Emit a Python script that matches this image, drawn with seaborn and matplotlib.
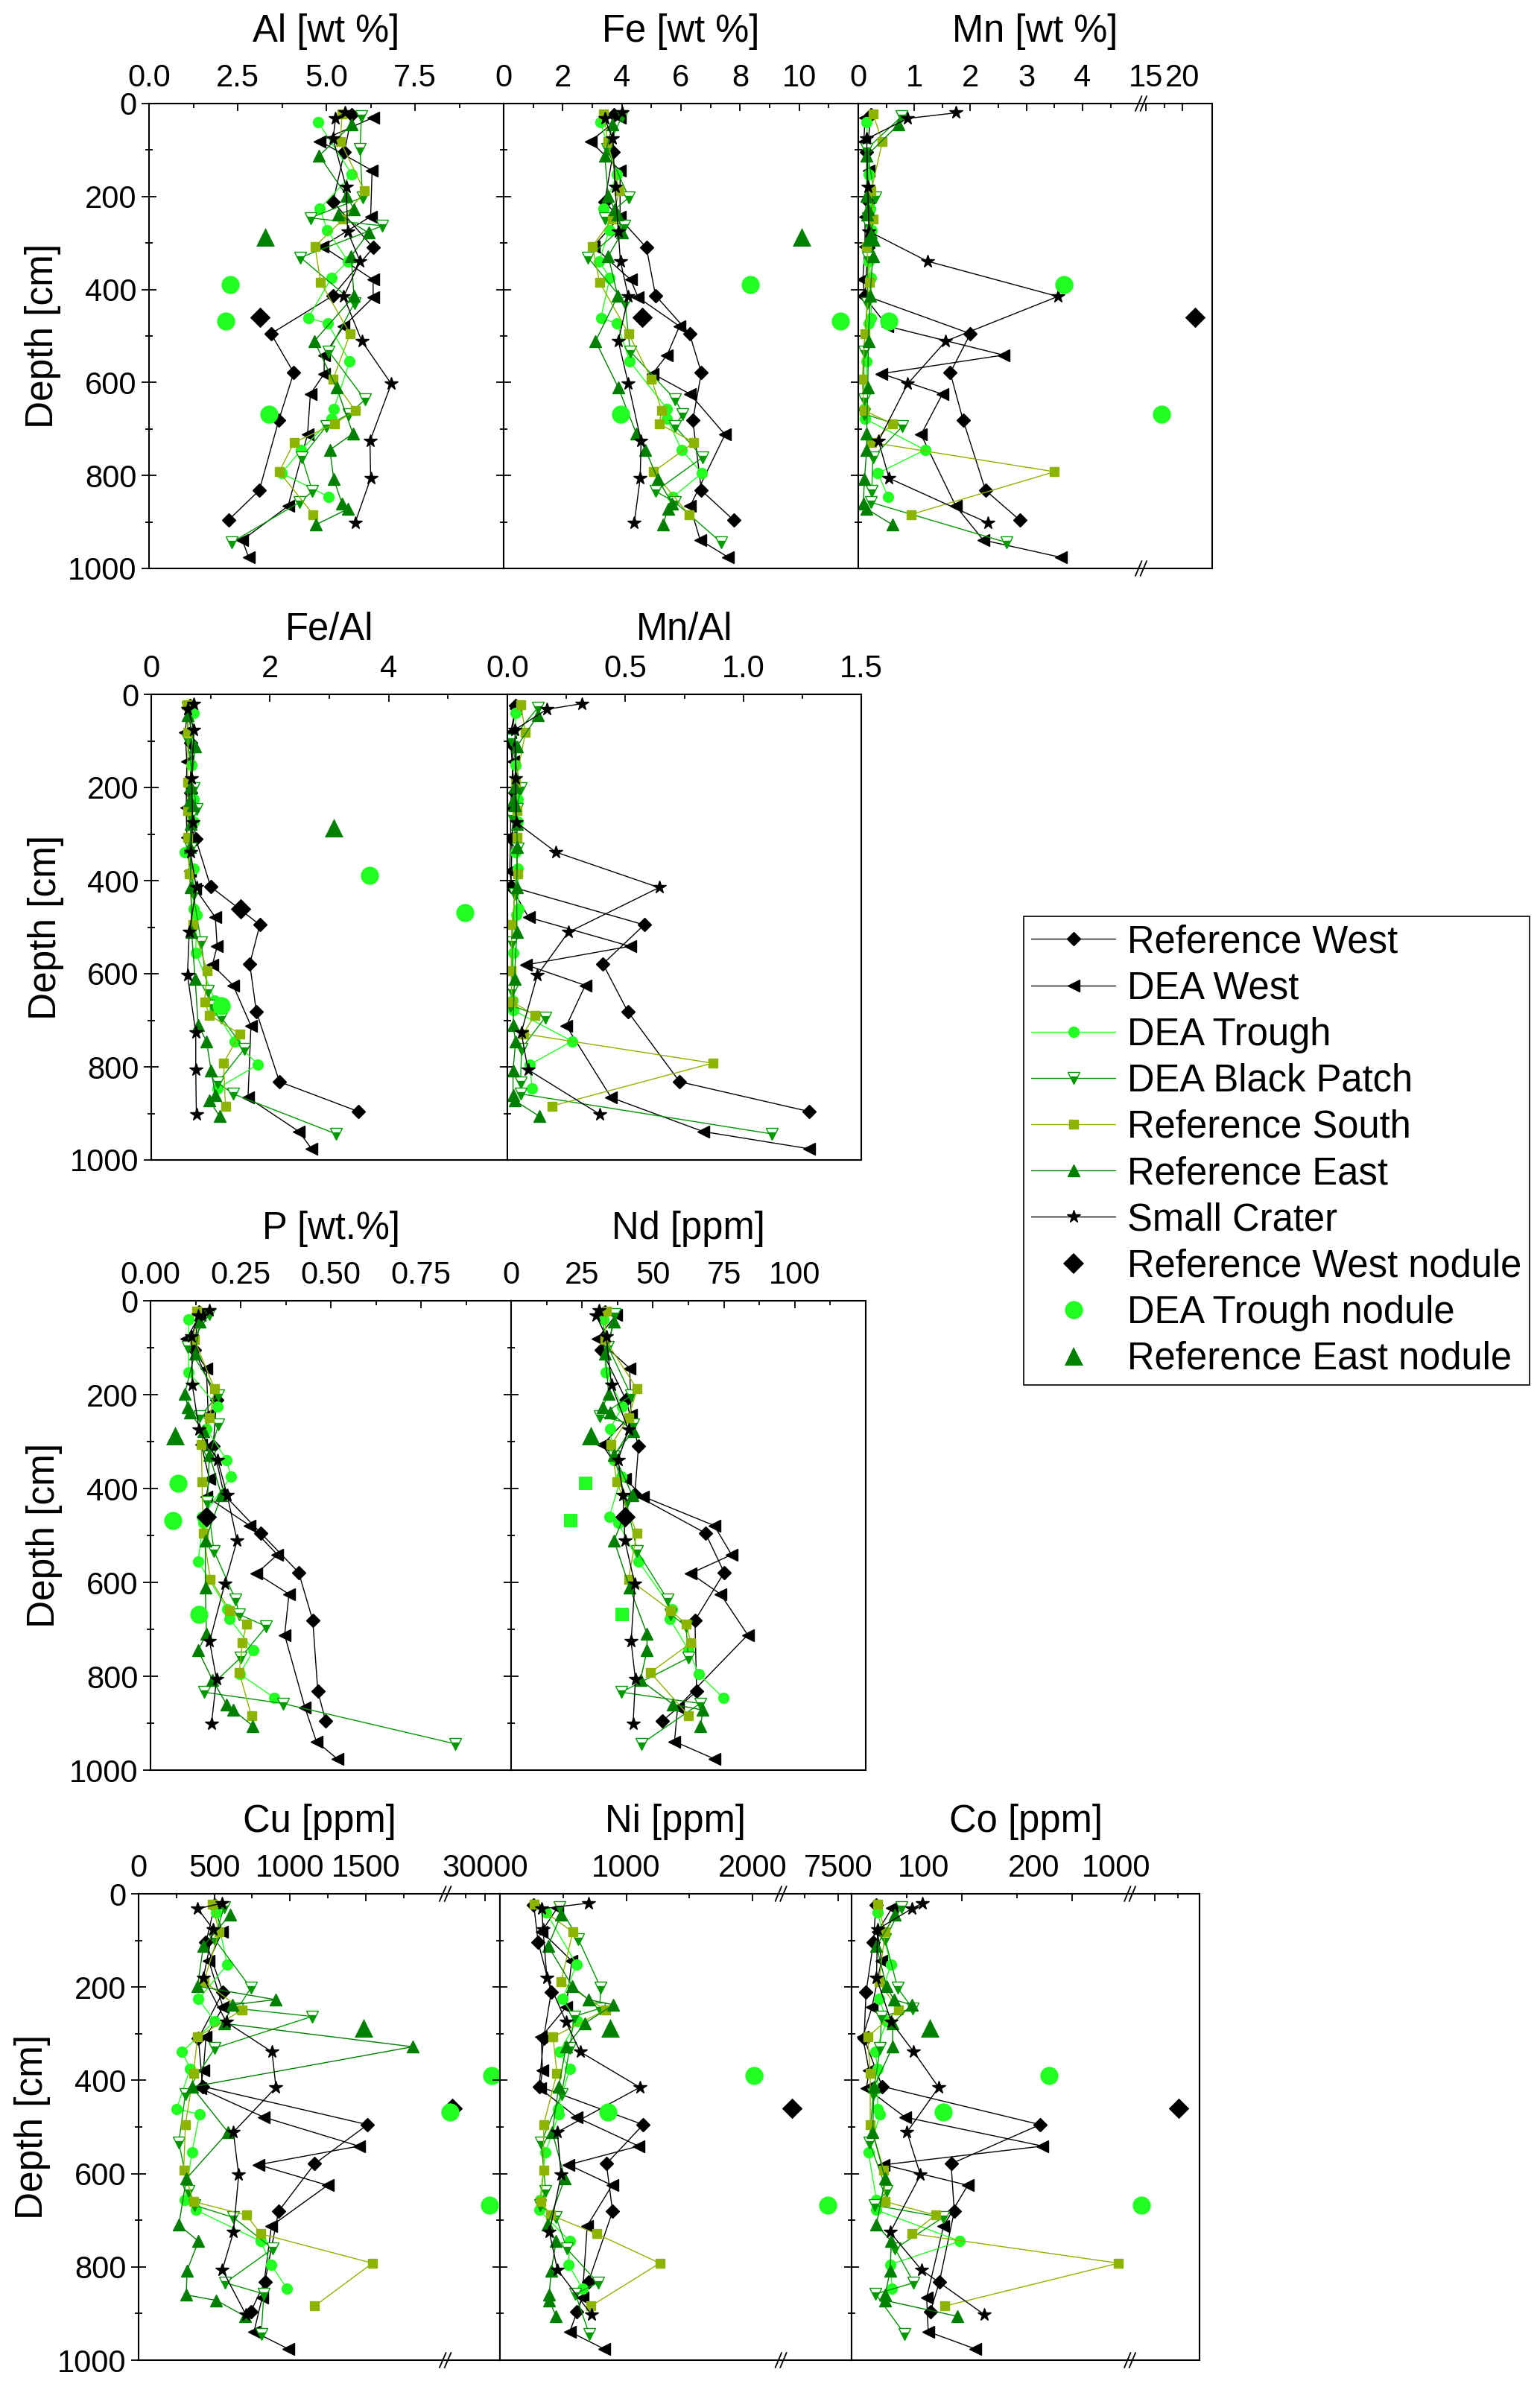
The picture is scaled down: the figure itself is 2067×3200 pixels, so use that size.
import numpy as np
import pandas as pd
import matplotlib
matplotlib.use("Agg")
import matplotlib.pyplot as plt
import seaborn as sns
from matplotlib.ticker import FixedLocator, FixedFormatter, NullFormatter
from matplotlib.lines import Line2D
from matplotlib.transforms import ScaledTranslation

# ---------------------------------------------------------------- depths [cm]
depth_rw = [24, 104, 211, 310, 413, 495, 579, 681, 832, 896]
depth_dw = [30, 81, 144, 243, 307, 379, 417, 479, 541, 581, 625, 712, 866, 939, 976]
depth_dt = [40, 152, 226, 273, 339, 375, 461, 473, 555, 657, 678, 745, 795, 846]
depth_bp = [28, 98, 202, 246, 263, 331, 429, 533, 637, 668, 694, 761, 834, 858, 944]
depth_rs = [22, 82, 188, 249, 307, 385, 495, 593, 660, 689, 729, 792, 884]
depth_re = [45, 112, 198, 227, 238, 278, 328, 414, 511, 611, 710, 745, 808, 860, 872, 906]
depth_sc = [20, 32, 76, 180, 275, 339, 415, 511, 603, 726, 806, 902]
depth_rw_nod = [460]
depth_dt_nod = [389, 468, 668]
depth_re_nod = [287]

# ---------------------------------------------------------------- Al [wt %]
al_rw = [5.72, 5.51, 5.19, 6.32, 5.19, 3.44, 4.08, 3.66, 3.11, 2.24]
al_dw = [6.32, 4.82, 6.29, 6.25, 4.89, 6.32, 6.32, 5.49, 4.94, 4.94, 4.55, 4.47, 3.92, 2.63, 2.81]
al_dt = [4.77, 5.72, 4.82, 5.03, 5.61, 5.14, 4.49, 5.04, 5.66, 5.21, 5.15, 4.29, 3.74, 5.07]
al_bp = [5.99, 5.95, 6.02, 4.55, 6.58, 4.27, 5.79, 5.07, 6.09, 5.63, 5.00, 4.31, 4.61, 4.24, 2.33]
al_rs = [5.44, 5.40, 6.07, 5.47, 4.68, 4.84, 5.67, 5.19, 5.81, 5.23, 4.09, 3.67, 4.63]
al_re = [5.72, 4.80, 5.57, 5.78, 5.34, 6.19, 5.70, 5.78, 4.66, 5.29, 5.75, 5.10, 5.21, 5.44, 5.61, 4.70]
al_sc = [5.53, 5.26, 5.19, 5.56, 5.60, 5.95, 5.49, 6.00, 6.83, 6.23, 6.25, 5.81]
al_rw_nod = [3.12]
al_dt_nod = [2.29, 2.17, 3.39]
al_re_nod = [3.27]

# ---------------------------------------------------------------- Fe [wt %]
fe_rw = [3.74, 3.71, 3.42, 4.83, 5.14, 6.29, 6.69, 6.40, 6.69, 7.78]
fe_dw = [3.94, 2.94, 3.94, 3.94, 3.04, 4.30, 4.55, 5.95, 5.53, 5.04, 6.31, 7.49, 6.31, 6.65, 7.60]
fe_dt = [3.27, 3.84, 3.38, 3.57, 3.23, 3.59, 3.29, 3.84, 4.27, 5.53, 5.53, 6.02, 6.71, 5.73]
fe_bp = [4.00, 3.50, 4.24, 3.42, 4.09, 2.85, 4.11, 4.28, 5.81, 6.06, 5.79, 6.73, 5.14, 5.81, 7.36]
fe_rs = [3.39, 3.52, 3.92, 3.67, 3.00, 3.25, 4.23, 5.00, 5.35, 5.26, 6.44, 5.07, 6.27]
fe_re = [3.69, 3.42, 3.54, 3.75, 3.85, 4.00, 3.54, 3.86, 3.11, 3.88, 4.49, 4.80, 5.22, 5.70, 5.56, 5.39]
fe_sc = [4.00, 3.42, 3.69, 3.77, 3.88, 3.95, 4.22, 3.88, 4.22, 4.65, 4.62, 4.42]
fe_rw_nod = [4.68]
fe_dt_nod = [8.35, 11.39, 3.96]
fe_re_nod = [10.09]

# ---------------------------------------------------------------- Mn [wt %]
mn_rw = [0.23, 0.15, 0.19, 0.17, 0.12, 2.00, 1.64, 1.87, 2.27, 2.88]
mn_dw = [0.12, 0.10, 0.19, 0.12, 0.12, 0.08, 0.12, 0.52, 2.59, 0.41, 1.50, 1.12, 1.74, 2.23, 3.61]
mn_dt = [0.15, 0.19, 0.21, 0.24, 0.19, 0.23, 0.23, 0.18, 0.15, 0.11, 0.12, 1.19, 0.35, 0.53]
mn_bp = [0.77, 0.15, 0.30, 0.17, 0.19, 0.17, 0.16, 0.10, 0.10, 0.11, 0.79, 0.26, 0.24, 0.23, 2.64]
mn_rs = [0.26, 0.43, 0.23, 0.26, 0.15, 0.20, 0.12, 0.07, 0.10, 0.61, 0.24, 3.50, 0.94]
mn_re = [0.72, 0.15, 0.15, 0.17, 0.16, 0.23, 0.26, 0.21, 0.18, 0.17, 0.15, 0.15, 0.11, 0.09, 0.15, 0.61]
mn_sc = [1.74, 0.88, 0.15, 0.17, 0.19, 1.23, 3.56, 1.56, 0.88, 0.36, 0.55, 2.31]
mn_rw_nod = [21.8]
mn_dt_nod = [3.67, 0.55, 17.1]
mn_re_nod = [0.23]

# ---------------------------------------------------------------- Fe/Al
feal_rw = [0.65, 0.67, 0.66, 0.75, 1.00, 1.83, 1.66, 1.77, 2.16, 3.49]
feal_dw = [0.62, 0.57, 0.60, 0.59, 0.60, 0.65, 0.74, 1.08, 1.11, 1.03, 1.38, 1.68, 1.63, 2.49, 2.70]
feal_dt = [0.71, 0.68, 0.72, 0.72, 0.56, 0.71, 0.71, 0.76, 0.75, 1.07, 1.07, 1.40, 1.80, 1.12]
feal_bp = [0.62, 0.61, 0.72, 0.76, 0.67, 0.66, 0.71, 0.84, 0.95, 1.03, 1.18, 1.57, 1.12, 1.38, 3.11]
feal_rs = [0.60, 0.62, 0.61, 0.62, 0.61, 0.64, 0.70, 0.94, 0.90, 0.98, 1.49, 1.22, 1.25]
feal_re = [0.62, 0.74, 0.67, 0.65, 0.70, 0.67, 0.65, 0.67, 0.68, 0.74, 0.79, 0.93, 1.01, 1.08, 0.98, 1.15]
feal_sc = [0.72, 0.62, 0.72, 0.68, 0.70, 0.66, 0.76, 0.64, 0.61, 0.75, 0.75, 0.76]
feal_rw_nod = [1.51]
feal_dt_nod = [3.68, 5.28, 1.18]
feal_re_nod = [3.07]

# ---------------------------------------------------------------- Mn/Al
mnal_rw = [0.035, 0.014, 0.030, 0.020, 0.015, 0.58, 0.405, 0.51, 0.73, 1.28]
mnal_dw = [0.035, 0.014, 0.024, 0.014, 0.014, 0.010, 0.020, 0.09, 0.52, 0.08, 0.33, 0.25, 0.44, 0.83, 1.28]
mnal_dt = [0.035, 0.035, 0.045, 0.045, 0.035, 0.045, 0.048, 0.037, 0.026, 0.021, 0.024, 0.275, 0.095, 0.105]
mnal_bp = [0.13, 0.017, 0.056, 0.040, 0.020, 0.045, 0.030, 0.020, 0.020, 0.014, 0.16, 0.060, 0.056, 0.056, 1.12]
mnal_rs = [0.056, 0.077, 0.035, 0.040, 0.040, 0.043, 0.019, 0.016, 0.019, 0.116, 0.068, 0.87, 0.19]
mnal_re = [0.13, 0.04, 0.03, 0.024, 0.03, 0.04, 0.042, 0.04, 0.04, 0.03, 0.024, 0.035, 0.024, 0.024, 0.03, 0.135]
mnal_sc = [0.317, 0.168, 0.032, 0.035, 0.038, 0.206, 0.643, 0.258, 0.127, 0.059, 0.087, 0.392]

# ---------------------------------------------------------------- P [wt.%]
p_rw = [0.134, 0.121, 0.183, 0.174, 0.204, 0.306, 0.411, 0.450, 0.464, 0.486]
p_dw = [0.137, 0.100, 0.155, 0.160, 0.141, 0.163, 0.155, 0.275, 0.352, 0.294, 0.384, 0.372, 0.428, 0.460, 0.518]
p_dt = [0.106, 0.106, 0.186, 0.155, 0.211, 0.223, 0.143, 0.146, 0.132, 0.213, 0.220, 0.286, 0.247, 0.344]
p_bp = [0.164, 0.104, 0.187, 0.137, 0.189, 0.163, 0.158, 0.176, 0.236, 0.246, 0.321, 0.249, 0.149, 0.367, 0.845]
p_rs = [0.129, 0.121, 0.178, 0.164, 0.141, 0.143, 0.146, 0.166, 0.220, 0.266, 0.255, 0.246, 0.280]
p_re = [0.137, 0.123, 0.095, 0.104, 0.110, 0.146, 0.163, 0.197, 0.152, 0.152, 0.155, 0.132, 0.172, 0.211, 0.229, 0.284]
p_sc = [0.163, 0.132, 0.114, 0.116, 0.135, 0.186, 0.213, 0.240, 0.206, 0.164, 0.183, 0.169]
p_rw_nod = [0.155]
p_dt_nod = [0.077, 0.063, 0.135]
p_re_nod = [0.069]

# ---------------------------------------------------------------- Nd [ppm]
nd_rw = [33.1, 31.8, 40.5, 44.9, 43.6, 68.5, 75.1, 64.8, 65.4, 53.2]
nd_dw = [37.0, 30.4, 41.8, 42.3, 32.2, 40.1, 46.5, 71.6, 77.7, 63.3, 73.8, 83.4, 58.7, 57.6, 71.6]
nd_dt = [32.6, 33.3, 39.2, 34.8, 36.3, 38.8, 34.6, 37.7, 44.9, 56.7, 56.0, 62.6, 66.1, 74.8]
nd_bp = [36.6, 34.2, 42.3, 31.3, 43.1, 36.3, 40.7, 44.4, 55.2, 56.3, 61.7, 62.4, 38.8, 66.6, 45.9]
nd_rs = [33.5, 33.1, 44.4, 41.4, 35.3, 37.2, 44.3, 41.4, 56.3, 61.7, 63.4, 49.1, 62.6]
nd_re = [36.3, 33.1, 34.4, 32.2, 35.0, 43.1, 36.3, 42.7, 36.3, 41.8, 47.9, 47.9, 45.6, 57.1, 67.6, 66.8]
nd_sc = [30.9, 30.0, 33.5, 35.4, 41.4, 37.7, 39.5, 40.1, 43.6, 42.3, 43.8, 43.0]
nd_rw_nod = [40.1]
nd_dt_nod = [26.3, 21.1, 39.0]
nd_re_nod = [28.1]

# ---------------------------------------------------------------- Cu [ppm]
cu_rw = [503, 445, 557, 395, 423, 1512, 1162, 924, 834, 741]
cu_dw = [503, 553, 464, 557, 445, 428, 406, 827, 1454, 790, 1248, 877, 816, 762, 989]
cu_dt = [514, 585, 395, 503, 287, 341, 251, 402, 352, 305, 378, 806, 875, 978]
cu_bp = [564, 503, 741, 654, 1145, 503, 309, 266, 330, 369, 626, 886, 572, 827, 810]
cu_rs = [488, 531, 432, 683, 389, 363, 309, 298, 363, 713, 806, 1544, 1162]
cu_re = [605, 428, 389, 903, 620, 564, 1810, 352, 590, 315, 266, 395, 320, 315, 514, 704]
cu_sc = [553, 391, 492, 428, 579, 881, 907, 626, 661, 626, 553, 708]
cu_rw_nod = [25830]
cu_dt_nod = [30840, 25480, 30560]
cu_re_nod = [1486]

# ---------------------------------------------------------------- Ni [ppm]
ni_rw = [268, 303, 406, 346, 311, 1134, 843, 892, 701, 608]
ni_dw = [455, 330, 569, 524, 327, 337, 317, 606, 1098, 543, 888, 691, 652, 553, 825]
ni_dt = [366, 608, 494, 612, 469, 553, 459, 465, 360, 317, 311, 553, 543, 652]
ni_bp = [474, 622, 799, 789, 587, 553, 488, 327, 362, 317, 445, 530, 776, 598, 707]
ni_rs = [274, 577, 484, 835, 421, 451, 346, 346, 323, 402, 764, 1266, 720]
ni_re = [484, 382, 573, 701, 898, 671, 524, 465, 415, 514, 376, 445, 406, 390, 390, 445]
ni_sc = [701, 333, 341, 372, 524, 636, 1108, 455, 484, 392, 455, 724]
ni_rw_nod = [6803]
ni_dt_nod = [2010, 858, 7344]
ni_re_nod = [874]

# ---------------------------------------------------------------- Co [ppm]
co_rw = [22.0, 19.8, 13.1, 11.3, 27.7, 170.7, 90.1, 93.0, 79.5, 71.4]
co_dw = [36.7, 23.6, 27.0, 18.5, 10.1, 15.8, 13.5, 48.4, 173.0, 29.3, 105.2, 83.3, 68.0, 69.4, 112.2]
co_dt = [23.6, 35.6, 25.2, 32.0, 21.4, 23.6, 23.6, 25.9, 15.3, 22.5, 22.5, 98.0, 34.9, 36.7]
co_bp = [45.0, 30.4, 41.7, 55.2, 27.0, 25.9, 19.6, 16.2, 32.0, 20.9, 82.7, 39.4, 56.3, 21.8, 48.0]
co_rs = [23.6, 30.4, 24.8, 42.3, 14.6, 16.9, 16.9, 29.3, 30.4, 75.9, 54.7, 241.7, 84.5]
co_re = [39.4, 22.5, 31.5, 38.3, 54.5, 37.2, 37.2, 20.3, 19.1, 30.4, 22.5, 36.0, 34.9, 30.4, 30.4, 95.7]
co_sc = [64.2, 54.5, 23.6, 22.5, 36.0, 56.3, 78.8, 50.2, 62.4, 34.9, 63.1, 120.0]
co_rw_nod = [1521]
co_dt_nod = [179, 82.7, 705]
co_re_nod = [70.5]

series_names = ["Reference West", "DEA West", "DEA Trough", "DEA Black Patch",
                "Reference South", "Reference East", "Small Crater"]
nodule_names = ["Reference West nodule", "DEA Trough nodule", "Reference East nodule"]

# ---------------------------------------------------------------- styling
sns.set_theme(style="white", rc={"axes.edgecolor": "black", "xtick.color": "black",
                                 "ytick.color": "black", "axes.labelcolor": "black",
                                 "text.color": "black"})
plt.rcParams["font.family"] = ["Liberation Sans", "DejaVu Sans"]

C_TROUGH = "#22FF22"
C_PATCH = "#009900"
C_SOUTH = "#8CB400"
C_EAST = "#008000"

series_style = [
    dict(color="black", marker="D", markersize=8.8, markerfacecolor="black", markeredgecolor="black"),
    dict(color="black", marker="<", markersize=12.0, markerfacecolor="black", markeredgecolor="black"),
    dict(color=C_TROUGH, marker="o", markersize=10.0, markerfacecolor=C_TROUGH, markeredgecolor=C_TROUGH),
    dict(color=C_PATCH, marker="v", markersize=11.5, markerfacecolor=C_PATCH, markeredgecolor=C_PATCH,
         fillstyle="bottom", markerfacecoloralt="white"),
    dict(color=C_SOUTH, marker="s", markersize=9.0, markerfacecolor=C_SOUTH, markeredgecolor=C_SOUTH),
    dict(color=C_EAST, marker="^", markersize=11.5, markerfacecolor=C_EAST, markeredgecolor=C_EAST),
    dict(color="black", marker="*", markersize=13.0, markerfacecolor="black", markeredgecolor="black"),
]
nodule_style = [
    dict(color="black", marker="D", ms=14.0),
    dict(color=C_TROUGH, marker="o", ms=17.5),
    dict(color=C_EAST, marker="^", ms=18.0),
]
series_depths = [depth_rw, depth_dw, depth_dt, depth_bp, depth_rs, depth_re, depth_sc]
nodule_depths = [depth_rw_nod, depth_dt_nod, depth_re_nod]

W, H = 2067, 3200


def rect(x0, x1, y0, y1):
    return [x0 / W, 1 - y1 / H, (x1 - x0) / W, (y1 - y0) / H]


def piecewise(vals, pos):
    v = np.asarray(vals, float)
    p = np.asarray(pos, float)

    def fwd(x):
        x = np.asarray(x, float)
        y = np.interp(x, v, p)
        y = np.where(x < v[0], p[0] + (x - v[0]) * (p[1] - p[0]) / (v[1] - v[0]), y)
        y = np.where(x > v[-1], p[-1] + (x - v[-1]) * (p[-1] - p[-2]) / (v[-1] - v[-2]), y)
        return y

    def inv(y):
        y = np.asarray(y, float)
        x = np.interp(y, p, v)
        x = np.where(y < p[0], v[0] + (y - p[0]) * (v[1] - v[0]) / (p[1] - p[0]), x)
        x = np.where(y > p[-1], v[-1] + (y - p[-1]) * (v[-1] - v[-2]) / (p[-1] - p[-2]), x)
        return x
    return fwd, inv


panels = [
    dict(title="Al [wt %]", box=(200, 676, 139, 763), first=True,
         vals=[al_rw, al_dw, al_dt, al_bp, al_rs, al_re, al_sc],
         nod=[al_rw_nod, al_dt_nod, al_re_nod],
         lim=(0, 10), major=[0, 2.5, 5, 7.5], labels=["0.0", "2.5", "5.0", "7.5"],
         minor=[1.25, 3.75, 6.25, 8.75]),
    dict(title="Fe [wt %]", box=(676, 1152, 139, 763), first=False,
         vals=[fe_rw, fe_dw, fe_dt, fe_bp, fe_rs, fe_re, fe_sc],
         nod=[fe_rw_nod, fe_dt_nod, fe_re_nod],
         lim=(0, 12), major=[0, 2, 4, 6, 8, 10], labels=["0", "2", "4", "6", "8", "10"],
         minor=[1, 3, 5, 7, 9, 11]),
    dict(title="Mn [wt %]", box=(1152, 1627, 139, 763), first=False,
         vals=[mn_rw, mn_dw, mn_dt, mn_bp, mn_rs, mn_re, mn_sc],
         nod=[mn_rw_nod, mn_dt_nod, mn_re_nod],
         brk=([0, 5.0, 14.63, 24.14], [0, 0.792, 0.806, 1.0]),
         major=[0, 1, 2, 3, 4, 15, 20], labels=["0", "1", "2", "3", "4", "15", "20"],
         minor=[0.5, 1.5, 2.5, 3.5, 4.5, 17.5]),
    dict(title="Fe/Al", box=(203, 681, 932, 1557), first=True, lpad=14,
         vals=[feal_rw, feal_dw, feal_dt, feal_bp, feal_rs, feal_re, feal_sc],
         nod=[feal_rw_nod, feal_dt_nod, feal_re_nod],
         lim=(0, 6), major=[0, 2, 4], labels=["0", "2", "4"], minor=[1, 3, 5]),
    dict(title="Mn/Al", box=(681, 1156, 932, 1557), first=False, lpad=14,
         vals=[mnal_rw, mnal_dw, mnal_dt, mnal_bp, mnal_rs, mnal_re, mnal_sc],
         nod=None,
         lim=(0, 1.5), major=[0, 0.5, 1.0, 1.5], labels=["0.0", "0.5", "1.0", "1.5"],
         minor=[0.25, 0.75, 1.25]),
    dict(title="P [wt.%]", box=(202, 686, 1746, 2376), first=True,
         vals=[p_rw, p_dw, p_dt, p_bp, p_rs, p_re, p_sc],
         nod=[p_rw_nod, p_dt_nod, p_re_nod],
         lim=(0, 1.0), major=[0, 0.25, 0.5, 0.75], labels=["0.00", "0.25", "0.50", "0.75"],
         minor=[0.125, 0.375, 0.625, 0.875]),
    dict(title="Nd [ppm]", box=(686, 1162, 1746, 2376), first=False,
         vals=[nd_rw, nd_dw, nd_dt, nd_bp, nd_rs, nd_re, nd_sc],
         nod=[nd_rw_nod, nd_dt_nod, nd_re_nod], square_trough=True,
         lim=(0, 125), major=[0, 25, 50, 75, 100], labels=["0", "25", "50", "75", "100"],
         minor=[12.5, 37.5, 62.5, 87.5, 112.5]),
    dict(title="Cu [ppm]", box=(186, 671, 2542, 3168), first=True,
         vals=[cu_rw, cu_dw, cu_dt, cu_bp, cu_rs, cu_re, cu_sc],
         nod=[cu_rw_nod, cu_dt_nod, cu_re_nod],
         brk=([0, 2010, 25200, 31900], [0, 0.8425, 0.855, 1.0]),
         major=[0, 500, 1000, 1500, 30000], labels=["0", "500", "1000", "1500", "30000"],
         minor=[250, 750, 1250, 1750, 27500]),
    dict(title="Ni [ppm]", box=(671, 1143, 2542, 3168), first=False,
         vals=[ni_rw, ni_dw, ni_dt, ni_bp, ni_rs, ni_re, ni_sc],
         nod=[ni_rw_nod, ni_dt_nod, ni_re_nod],
         brk=([0, 2194, 6700, 7697], [0, 0.788, 0.81, 1.0]),
         major=[1000, 2000, 7500], labels=["1000", "2000", "7500"],
         minor=[500, 1500, 7000]),
    dict(title="Co [ppm]", box=(1143, 1610, 2542, 3168), first=False,
         vals=[co_rw, co_dw, co_dt, co_bp, co_rs, co_re, co_sc],
         nod=[co_rw_nod, co_dt_nod, co_re_nod], shift_labels=True,
         brk=([0, 247, 581, 1968], [0, 0.784, 0.816, 1.0]),
         major=[100, 200, 1000], labels=["100", "200", "1000"],
         minor=[50, 150, 1500]),
]

fig = plt.figure(figsize=(W / 100, H / 100), dpi=100)
shift_axes = []

for pn in panels:
    ax = fig.add_axes(rect(*pn["box"]))
    if "brk" in pn:
        bv, bp_ = pn["brk"]
        ax.set_xscale("function", functions=piecewise(bv, bp_))
        xlim = (bv[0], bv[-1])
    else:
        xlim = pn["lim"]

    for vals, dep, st in zip(pn["vals"], series_depths, series_style):
        df = pd.DataFrame({"value": vals, "depth": dep})
        sns.lineplot(data=df, x="value", y="depth", orient="y", sort=True, estimator=None,
                     ax=ax, linewidth=1.0, markeredgewidth=1.0, legend=False, **st)

    if pn["nod"] is not None:
        for k, (vals, dep, st) in enumerate(zip(pn["nod"], nodule_depths, nodule_style)):
            marker = st["marker"]
            ms = st["ms"]
            if k == 1 and pn.get("square_trough"):
                marker, ms = "s", 13.5
            sns.scatterplot(x=vals, y=dep, ax=ax, marker=marker, s=ms ** 2, color=st["color"],
                            edgecolor=st["color"], linewidth=0, legend=False, zorder=5)

    ax.set_xlim(*xlim)
    ax.set_ylim(1000, 0)

    for sp in ax.spines.values():
        sp.set_visible(True)
        sp.set_color("black")
        sp.set_linewidth(1.5)

    ax.xaxis.set_major_locator(FixedLocator(pn["major"]))
    ax.xaxis.set_major_formatter(FixedFormatter(pn["labels"]))
    ax.xaxis.set_minor_locator(FixedLocator(pn["minor"]))
    ax.xaxis.set_minor_formatter(NullFormatter())
    ax.yaxis.set_major_locator(FixedLocator([0, 200, 400, 600, 800, 1000]))
    ax.yaxis.set_minor_locator(FixedLocator([100, 300, 500, 700, 900]))

    ax.tick_params(axis="x", which="major", direction="in", length=7, width=1.3,
                   top=True, bottom=False, labeltop=True, labelbottom=False,
                   labelsize=30, pad=10, colors="black")
    ax.tick_params(axis="x", which="minor", direction="in", length=4.5, width=1.3,
                   top=True, bottom=False)
    ax.tick_params(axis="y", which="major", direction="inout", length=14, width=1.3,
                   left=True, right=False, labelleft=pn["first"], labelright=False,
                   labelsize=30, pad=5, colors="black")
    ax.tick_params(axis="y", which="minor", direction="inout", length=7, width=1.3,
                   left=True, right=False)

    ax.xaxis.set_label_position("top")
    ax.set_xlabel(pn["title"], fontsize=36.5, labelpad=pn.get("lpad", 21))
    if pn["first"]:
        ax.set_ylabel("Depth [cm]", fontsize=37, labelpad=6)
    else:
        ax.set_ylabel("")

    if "brk" in pn:
        bv, bp_ = pn["brk"]
        xb = 0.5 * (bp_[1] + bp_[2])
        for yb in (0.0, 1.0):
            for dx in (-0.007, 0.007):
                ax.plot([xb + dx - 0.009, xb + dx + 0.009], [yb - 0.016, yb + 0.016],
                        transform=ax.transAxes, color="black", lw=1.3, clip_on=False, zorder=10)
    if pn.get("shift_labels"):
        shift_axes.append(ax)

# ---------------------------------------------------------------- legend
handles = []
for st in series_style:
    handles.append(Line2D([0], [0], linewidth=1.0, markeredgewidth=1.0, **st))
for st in nodule_style:
    handles.append(Line2D([0], [0], linestyle="none", marker=st["marker"], markersize=st["ms"],
                          markerfacecolor=st["color"], markeredgecolor=st["color"],
                          markeredgewidth=0))
leg = fig.legend(handles, series_names + nodule_names, loc="upper left",
                 bbox_to_anchor=(1374 / W, 1 - 1230 / H), borderaxespad=0,
                 fontsize=36.5, frameon=True, fancybox=False, framealpha=1,
                 edgecolor="black", borderpad=0.2, labelspacing=0.26,
                 handlelength=2.23, handletextpad=0.32, numpoints=1)
leg.get_frame().set_linewidth(1.2)

# Co tick labels sit slightly left of their ticks in the original
fig.canvas.draw()
for ax in shift_axes:
    off = ScaledTranslation(-0.52, 0, fig.dpi_scale_trans)
    for tick in ax.xaxis.get_major_ticks():
        tick.label2.set_transform(tick.label2.get_transform() + off)

fig.savefig("out.png", dpi=100)
